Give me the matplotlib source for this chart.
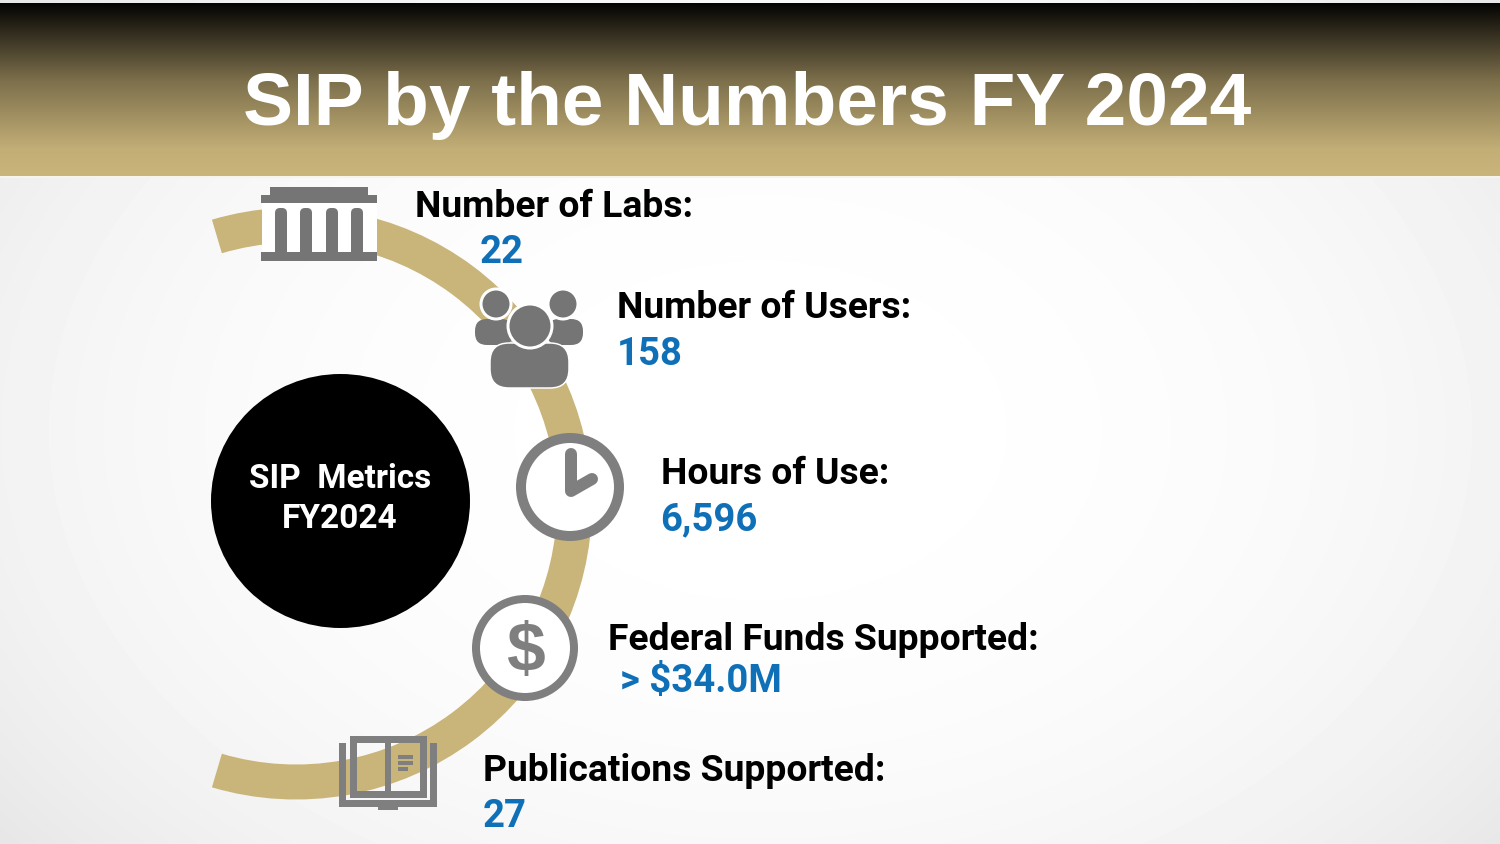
"""SIP by the Numbers FY 2024 - infographic, drawn in pixel coordinates."""
import matplotlib
matplotlib.use("Agg")
import matplotlib.pyplot as plt
import numpy as np
from matplotlib.patches import Circle, Ellipse, FancyBboxPatch, Rectangle, Wedge

W, H = 1500, 844
GOLD = "#c9b47a"
GRAY = "#757575"
RING_GRAY = "#7f7f7f"
BLUE = "#0f70b7"

title = "SIP by the Numbers FY 2024"
center_lines = ["SIP  Metrics", "FY2024"]
metric_labels = ["Number of Labs:", "Number of Users:", "Hours of Use:",
                 "Federal Funds Supported:", "Publications Supported:"]
metric_values = ["22", "158", "6,596", "> $34.0M", "27"]

label_x = [415, 617, 661, 608, 483]
label_y = [217, 318, 484, 650, 781]
value_x = [480, 617, 660, 620, 483]
value_y = [263, 365, 530, 692, 827]

fig = plt.figure(figsize=(W / 100, H / 100), dpi=100)
ax = fig.add_axes([0, 0, 1, 1])


def px(v):
    # line widths are in points, coordinates in pixels
    return v * 0.72


# --- background ---
yy, xx = np.mgrid[0:H, 0:W]
dist2 = ((xx - 760) / 900) ** 2 + ((yy - 430) / 620) ** 2
bg = 1.0 - 0.05 * dist2 - 0.03 * dist2 ** 2
ax.imshow(bg, cmap="gray", vmin=0, vmax=1, extent=(0, W, H, 0), aspect="auto", zorder=0)

# --- header gradient ---
top = np.array([0.0, 0.0, 0.0])
bottom = np.array([0xc9, 0xb4, 0x7a]) / 255
t = np.linspace(0, 1, 173)
t = np.interp(t, [0, 0.45, 0.85, 1], [0.02, 0.62, 0.97, 1])[:, None]
band = (top + (bottom - top) * t)[:, None, :]
ax.imshow(band, extent=(0, W, 176, 3), aspect="auto", zorder=1)
ax.add_patch(Rectangle((0, 176), W, 2, fc="#f7f4ea", ec="none", zorder=1))
ax.text(747, 125, title, family="Liberation Sans", weight="bold", fontsize=53.9,
        color="white", ha="center", va="baseline", zorder=5)

# --- arc and centre disc ---
ax.add_patch(Wedge((296, 503.5), 296, -106.5, 106.5, width=35, fc=GOLD, ec="none", zorder=2))
ax.add_patch(Ellipse((340.5, 501), 259, 254, fc="black", ec="none", zorder=2))
for line, y in zip(center_lines, [488, 528]):
    ax.text(340, y, line, family="Roboto", weight="bold", fontsize=24, color="white",
            ha="center", va="baseline", zorder=5)

# --- labs icon ---
ax.add_patch(Rectangle((262, 203), 115, 50, fc="white", ec="none", zorder=3))
ax.add_patch(Rectangle((270, 187), 98, 9, fc=GRAY, ec="none", zorder=4))
ax.add_patch(Rectangle((261, 195), 116, 8, fc=GRAY, ec="none", zorder=4))
ax.add_patch(Rectangle((261, 252), 116, 9, fc=GRAY, ec="none", zorder=4))
for cx in [281, 306, 332, 357]:
    ax.add_patch(FancyBboxPatch((cx - 1, 213), 2, 42, boxstyle="round,pad=5", fc=GRAY,
                                ec="none", zorder=4))

# --- users icon ---
for x0, x1 in [(478, 510), (550, 580)]:
    ax.add_patch(FancyBboxPatch((x0, 322), x1 - x0, 20, boxstyle="round,pad=3,rounding_size=12",
                                fc=GRAY, ec="none", zorder=3))
for cx in [496, 563]:
    ax.add_patch(Circle((cx, 304), 15, fc=GRAY, ec="white", lw=px(3), zorder=3.2))
ax.add_patch(FancyBboxPatch((494, 347), 71, 37, boxstyle="round,pad=4,rounding_size=19",
                            fc=GRAY, ec="white", lw=px(1.5), zorder=3.4))
ax.add_patch(Circle((530, 326), 22, fc=GRAY, ec="white", lw=px(3), zorder=3.6))

# --- clock icon ---
ax.add_patch(Circle((570, 487), 49, fc="white", ec=RING_GRAY, lw=px(10), zorder=3))
ax.plot([571, 571, 592], [454, 491, 479], color=RING_GRAY, lw=px(12),
        solid_capstyle="round", solid_joinstyle="round", zorder=4)

# --- dollar icon ---
ax.add_patch(Circle((525, 648), 49, fc="white", ec=RING_GRAY, lw=px(8), zorder=3))
ax.text(525, 671, "$", family="Liberation Sans", weight="bold", fontsize=50, color=RING_GRAY,
        ha="center", va="baseline", zorder=4)

# --- book icon ---
ax.add_patch(Rectangle((353, 739), 70, 55, fc="none", ec=RING_GRAY, lw=px(7), zorder=4))
ax.add_patch(Rectangle((385, 739), 6, 55, fc=RING_GRAY, ec="none", zorder=4))
ax.add_patch(Rectangle((339, 743), 7, 64, fc=RING_GRAY, ec="none", zorder=4))
ax.add_patch(Rectangle((430, 743), 7, 64, fc=RING_GRAY, ec="none", zorder=4))
ax.add_patch(Rectangle((339, 800), 98, 7, fc=RING_GRAY, ec="none", zorder=4))
ax.add_patch(Rectangle((378, 807), 20, 3, fc=RING_GRAY, ec="none", zorder=4))
for y, w in [(755, 15), (761, 15), (767, 10)]:
    ax.add_patch(Rectangle((398, y), w, 3.5, fc=RING_GRAY, ec="none", zorder=4))

# --- metric text ---
for label, x, y in zip(metric_labels, label_x, label_y):
    ax.text(x, y, label, family="Roboto", weight="bold", fontsize=26.85, color="black",
            ha="left", va="baseline", zorder=5)
for value, x, y in zip(metric_values, value_x, value_y):
    ax.text(x, y, value, family="Roboto", weight="bold", fontsize=27.5, color=BLUE,
            ha="left", va="baseline", zorder=5)

ax.set_xlim(0, W)
ax.set_ylim(H, 0)
ax.axis("off")
fig.savefig("out.png", dpi=100)
